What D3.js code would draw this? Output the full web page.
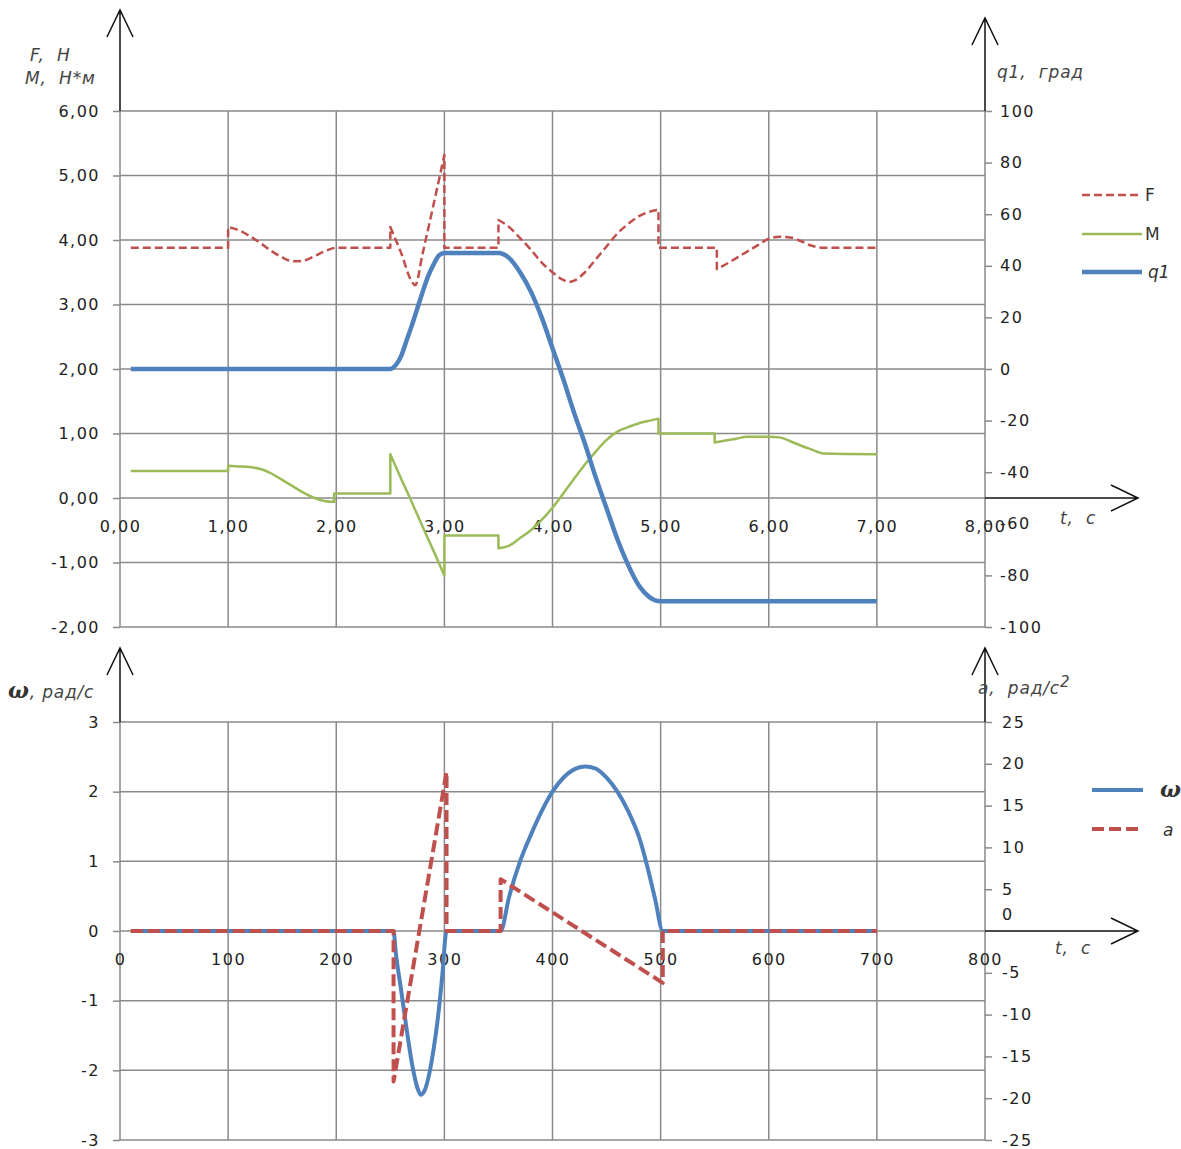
<!DOCTYPE html>
<html>
<head>
<meta charset="utf-8">
<script src="https://cdn.jsdelivr.net/npm/d3@7"></script>
<style>
  body { margin: 0; background: #fff; }
  svg text { font-family: "DejaVu Sans", Verdana, sans-serif; }
  .tick text { font-size: 16px; fill: #222; letter-spacing: 1.5px; }
  .lbl { font-size: 17px; font-style: italic; fill: #444; white-space: pre; letter-spacing: 0.8px; }
  .grid line { stroke: #8a8a8a; stroke-width: 1.5; }
</style>
</head>
<body>
<svg id="chart" width="1181" height="1149"></svg>
<script>
// ---- top chart: F, M (left axis), q1 (right axis), t in seconds
var tF = [0.1, 1.0, 1.0, 1.1, 1.2, 1.3, 1.4, 1.5, 1.6, 1.7, 1.8, 1.9, 2.0, 2.5, 2.5, 2.6, 2.7, 2.73, 2.8, 2.9, 3.0, 3.0,
          3.5, 3.5, 3.6, 3.7, 3.8, 3.9, 4.0, 4.1, 4.15, 4.2, 4.3, 4.4, 4.5, 4.6, 4.7, 4.8, 4.9, 4.98, 4.98,
          5.52, 5.52, 5.6, 5.7, 5.8, 5.9, 6.0, 6.1, 6.2, 6.3, 6.4, 6.5, 7.0]
var vF = [3.88, 3.88, 4.2, 4.15, 4.06, 3.95, 3.83, 3.73, 3.67, 3.68, 3.75, 3.83, 3.88, 3.88, 4.2, 3.8, 3.35, 3.3, 3.8, 4.55, 5.32, 3.88,
          3.88, 4.31, 4.2, 4.03, 3.85, 3.65, 3.5, 3.38, 3.35, 3.37, 3.5, 3.7, 3.9, 4.1, 4.25, 4.37, 4.44, 4.47, 3.88,
          3.88, 3.55, 3.62, 3.72, 3.82, 3.92, 4.02, 4.05, 4.04, 3.98, 3.91, 3.88, 3.88]

var tM = [0.1, 1.0, 1.0, 1.1, 1.2, 1.3, 1.4, 1.5, 1.6, 1.7, 1.8, 1.9, 1.98, 1.98, 2.5, 2.5, 2.6, 2.7, 2.8, 2.9, 3.0, 3.0,
          3.5, 3.5, 3.6, 3.7, 3.8, 3.9, 4.0, 4.1, 4.2, 4.3, 4.4, 4.5, 4.6, 4.7, 4.8, 4.9, 4.98, 4.98,
          5.5, 5.5, 5.6, 5.7, 5.8, 5.9, 6.0, 6.1, 6.2, 6.3, 6.4, 6.5, 7.0]
var vM = [0.42, 0.42, 0.5, 0.49, 0.48, 0.45, 0.38, 0.28, 0.18, 0.08, 0.0, -0.05, -0.06, 0.07, 0.07, 0.68, 0.3, -0.07, -0.45, -0.82, -1.2, -0.58,
          -0.58, -0.78, -0.74, -0.62, -0.5, -0.34, -0.15, 0.07, 0.3, 0.52, 0.72, 0.9, 1.03, 1.1, 1.16, 1.2, 1.23, 1.0,
          1.0, 0.86, 0.89, 0.92, 0.95, 0.95, 0.95, 0.94, 0.88, 0.81, 0.75, 0.69, 0.68]

var tQ = [0.1, 2.5, 2.55, 2.6, 2.65, 2.7, 2.75, 2.8, 2.85, 2.9, 2.95, 3.0, 3.5, 3.6, 3.7, 3.8, 3.9, 4.0, 4.1, 4.2, 4.3,
          4.4, 4.5, 4.6, 4.7, 4.8, 4.9, 4.95, 5.0, 7.0]
var vQ = [0, 0, 1.5, 5, 11, 17, 23.5, 30, 36, 40.5, 44, 45, 45, 43, 37.5, 30, 20, 8, -4, -17, -29,
          -42, -54, -66, -76, -84, -88.5, -89.7, -90, -90]

// ---- bottom chart: omega (left axis), a (right axis), t in 0.01 s
var tW = [10, 253, 255, 260, 265, 270, 275, 278, 282, 286, 290, 294, 298, 302, 352, 360, 370, 380, 390, 400,
          410, 420, 430, 440, 450, 460, 470, 480, 490, 495, 502, 700]
var vW = [0, 0, -0.3, -0.85, -1.4, -1.9, -2.25, -2.35, -2.28, -2.05, -1.7, -1.25, -0.65, 0, 0, 0.5, 1.0, 1.38, 1.72, 2.0,
          2.2, 2.32, 2.36, 2.33, 2.2, 2.0, 1.72, 1.35, 0.78, 0.45, 0, 0]

var tA = [10, 253, 253, 302, 302, 352, 352, 502, 502, 700]
var vA = [0, 0, -18, 19, 0, 0, 6.2, -6.2, 0, 0]

var ticksTopX = [0, 1, 2, 3, 4, 5, 6, 7, 8]
var ticksTopL = [-2, -1, 0, 1, 2, 3, 4, 5, 6]
var ticksTopR = [-100, -80, -60, -40, -20, 0, 20, 40, 60, 80, 100]
var ticksBotX = [0, 100, 200, 300, 400, 500, 600, 700, 800]
var ticksBotL = [-3, -2, -1, 0, 1, 2, 3]
var ticksBotR = [-25, -20, -15, -10, -5, 0, 5, 10, 15, 20, 25]

var RED = "#c0504d", GREEN = "#9bbb59", BLUE = "#4f81bd"

var svg = d3.select("#chart")
var left = 120, right = 985

var x1 = d3.scaleLinear().domain([0, 8]).range([left, right])
var yF = d3.scaleLinear().domain([-2, 6]).range([627, 111])
var yQ = d3.scaleLinear().domain([-100, 100]).range([627, 111])

var x2 = d3.scaleLinear().domain([0, 800]).range([left, right])
var yW = d3.scaleLinear().domain([-3, 3]).range([1140, 722])
var yA = d3.scaleLinear().domain([-25, 25]).range([1140, 722])

// Excel-style labels: decimal comma, plain hyphen minus
var comma = d => d3.format(".2f")(d).replace(".", ",").replace("\u2212", "-")
var plain = d => d3.format("d")(d).replace("\u2212", "-")

function drawGrid(x, y, xt, yt) {
  var g = svg.append("g").attr("class", "grid")
  g.selectAll(null).data(xt).enter().append("line")
    .attr("x1", d => x(d)).attr("x2", d => x(d))
    .attr("y1", y.range()[1]).attr("y2", y.range()[0])
  g.selectAll(null).data(yt).enter().append("line")
    .attr("x1", x.range()[0]).attr("x2", x.range()[1])
    .attr("y1", d => y(d)).attr("y2", d => y(d))
}

function styleAxis(g) {
  g.select(".domain").remove()
  g.selectAll(".tick line").attr("stroke", "#8a8a8a").attr("stroke-width", 1.5)
}

function arrow(xa, ya, xb, yb) {
  var ang = Math.atan2(yb - ya, xb - xa), len = 30, spread = 0.45
  var p = d3.path()
  p.moveTo(xa, ya); p.lineTo(xb, yb)
  p.moveTo(xb - len * Math.cos(ang - spread), yb - len * Math.sin(ang - spread))
  p.lineTo(xb, yb)
  p.lineTo(xb - len * Math.cos(ang + spread), yb - len * Math.sin(ang + spread))
  svg.append("path").attr("d", p.toString())
    .attr("fill", "none").attr("stroke", "#111").attr("stroke-width", 1.5)
}

// smooth each piece between jumps (repeated t) and join them into one path
function series(x, y, t, v, color, width, dash) {
  var pts = d3.zip(t, v), pieces = [[pts[0]]]
  for (var i = 1; i < pts.length; i++) {
    if (pts[i][0] === pts[i - 1][0]) pieces.push([pts[i]])
    else pieces[pieces.length - 1].push(pts[i])
  }
  var line = d3.line().x(d => x(d[0])).y(d => y(d[1])).curve(d3.curveMonotoneX)
  var d = pieces.map((p, k) => {
    var s = p.length > 1 ? line(p) : "M" + x(p[0][0]) + "," + y(p[0][1])
    return k === 0 ? s : "L" + s.slice(1)
  }).join("")
  svg.append("path")
    .attr("d", d)
    .attr("fill", "none")
    .attr("stroke", color)
    .attr("stroke-width", width)
    .attr("stroke-dasharray", dash || null)
    .attr("stroke-linejoin", "round")
}

// ===== top chart
drawGrid(x1, yF, ticksTopX, ticksTopL)

svg.append("g").attr("transform", "translate(" + left + ",0)")
  .call(d3.axisLeft(yF).tickValues(ticksTopL).tickSize(7).tickPadding(13).tickFormat(comma))
  .call(styleAxis)
svg.append("g").attr("transform", "translate(" + right + ",0)")
  .call(d3.axisRight(yQ).tickValues(ticksTopR).tickSize(7).tickPadding(8).tickFormat(plain))
  .call(styleAxis)
svg.append("g").attr("transform", "translate(0," + yF(0) + ")")
  .call(d3.axisBottom(x1).tickValues(ticksTopX).tickSize(0).tickPadding(23).tickFormat(comma))
  .call(styleAxis)

arrow(x1(0), yF(6), x1(0), 10)
arrow(x1(8), yF(6), x1(8), 18)
arrow(x1(8), yF(0), 1138, yF(0))

series(x1, yF, tF, vF, RED, 2.5, "8,4")
series(x1, yF, tM, vM, GREEN, 2.5)
series(x1, yQ, tQ, vQ, BLUE, 4.5)

// ===== bottom chart
drawGrid(x2, yW, ticksBotX, ticksBotL)

svg.append("g").attr("transform", "translate(" + left + ",0)")
  .call(d3.axisLeft(yW).tickValues(ticksBotL).tickSize(7).tickPadding(13).tickFormat(plain))
  .call(styleAxis)
var gBR = svg.append("g").attr("transform", "translate(" + right + ",0)")
  .call(d3.axisRight(yA).tickValues(ticksBotR).tickSize(7).tickPadding(10).tickFormat(plain))
  .call(styleAxis)
// the "0" label sits above the time axis
gBR.selectAll(".tick").filter(d => d === 0).select("text").attr("dy", "-0.7em")
gBR.selectAll(".tick").filter(d => d === 0).select("line").remove()
svg.append("g").attr("transform", "translate(0," + yW(0) + ")")
  .call(d3.axisBottom(x2).tickValues(ticksBotX).tickSize(0).tickPadding(23).tickFormat(plain))
  .call(styleAxis)

arrow(x2(0), yW(3), x2(0), 648)
arrow(x2(800), yW(3), x2(800), 648)
arrow(x2(800), yW(0), 1138, yW(0))

series(x2, yW, tW, vW, BLUE, 4)
series(x2, yA, tA, vA, RED, 4, "12,5")

// ===== legends
var legTop = [
  { name: "F", color: RED, width: 2.5, dash: "8,4", y: 195, italic: false },
  { name: "M", color: GREEN, width: 2.5, dash: null, y: 234, italic: false },
  { name: "q1", color: BLUE, width: 4.5, dash: null, y: 272, italic: true }
]
legTop.forEach(function (d) {
  svg.append("line").attr("x1", 1082).attr("x2", 1142).attr("y1", d.y).attr("y2", d.y)
    .attr("stroke", d.color).attr("stroke-width", d.width).attr("stroke-dasharray", d.dash)
  svg.append("text").attr("x", d.italic ? 1148 : 1145).attr("y", d.y + 6)
    .style("font-size", "17px").style("font-style", d.italic ? "italic" : "normal")
    .attr("fill", "#333").text(d.name)
})

var legBot = [
  { name: "ω", color: BLUE, dash: null, y: 790 },
  { name: "a", color: RED, dash: "12,5", y: 829 }
]
legBot.forEach(function (d, i) {
  svg.append("line").attr("x1", 1092).attr("x2", 1143).attr("y1", d.y).attr("y2", d.y)
    .attr("stroke", d.color).attr("stroke-width", 4).attr("stroke-dasharray", d.dash)
  svg.append("text").attr("x", i === 0 ? 1160 : 1163).attr("y", d.y + 7)
    .style("font-family", i === 0 ? "'DejaVu Serif', serif" : null)
    .style("font-weight", i === 0 ? "bold" : "normal")
    .style("font-style", "italic")
    .style("font-size", i === 0 ? "22px" : "17px")
    .attr("fill", "#333").text(d.name)
})

// ===== axis titles
svg.append("text").attr("class", "lbl").attr("x", 30).attr("y", 61).text("F,  Н")
svg.append("text").attr("class", "lbl").attr("x", 25).attr("y", 84).text("M,  Н*м")
svg.append("text").attr("class", "lbl").attr("x", 997).attr("y", 78).text("q1,  град")
svg.append("text").attr("class", "lbl").attr("x", 1060).attr("y", 524).text("t,  c")
svg.append("text").attr("class", "lbl").attr("x", 1055).attr("y", 954).text("t,  c")

var wl = svg.append("text").attr("class", "lbl").attr("x", 8).attr("y", 698)
wl.append("tspan").style("font-family", "'DejaVu Serif', serif").style("font-weight", "bold")
  .style("font-size", "22px").attr("fill", "#333").text("ω")
wl.append("tspan").text(", рад/с")

var al = svg.append("text").attr("class", "lbl").attr("x", 978).attr("y", 694)
al.append("tspan").text("a,  рад/с")
al.append("tspan").attr("dy", -7).style("font-size", "15px").text("2")
</script>
</body>
</html>
